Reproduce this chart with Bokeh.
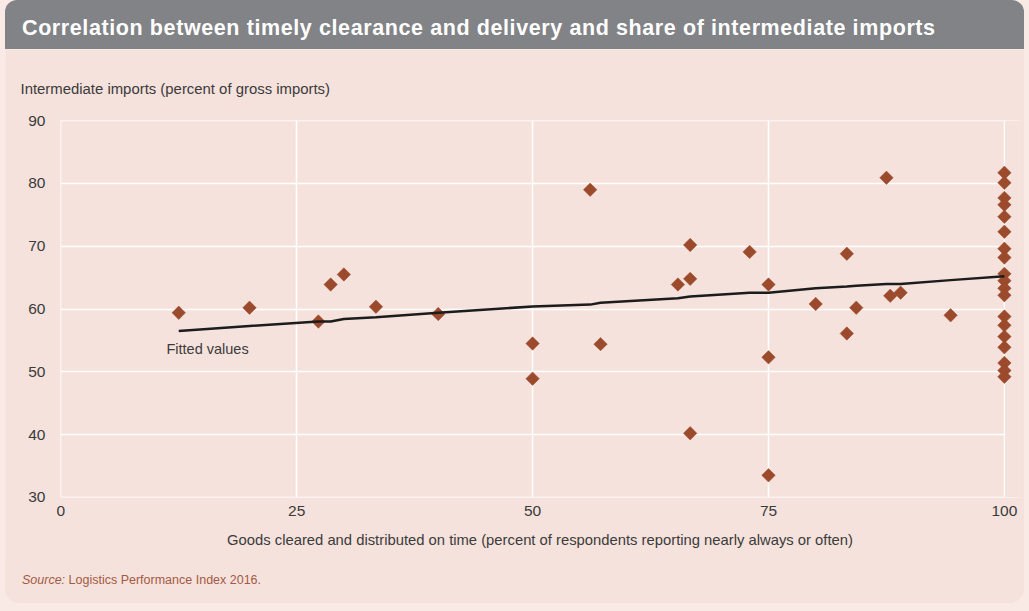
import numpy as np
from bokeh.plotting import figure
from bokeh.models import Range1d, Label, Div, FixedTicker, BoxAnnotation, Title
from bokeh.layouts import column
from bokeh.embed import file_html
from bokeh.resources import INLINE

# ---- data ----
x_vals = [12.5, 20.0, 27.3, 28.6, 30.0, 33.4, 40.0, 50.0, 50.0, 56.1, 57.2, 65.4, 66.7, 66.7,
          66.7, 73.0, 75.0, 75.0, 75.0, 80.0, 83.3, 83.3, 84.3, 87.5, 87.9, 89.0, 94.3,
          100, 100, 100, 100, 100, 100, 100, 100, 100, 100, 100, 100, 100, 100, 100, 100,
          100, 100, 100]
y_vals = [59.4, 60.2, 58.0, 63.9, 65.5, 60.35, 59.2, 54.5, 48.9, 79.0, 54.4, 63.9, 70.2, 64.8,
          40.2, 69.1, 63.9, 52.3, 33.5, 60.8, 68.8, 56.1, 60.2, 80.9, 62.1, 62.6, 59.0,
          81.7, 80.1, 77.7, 76.6, 74.7, 72.3, 69.6, 68.2, 65.6, 64.5, 63.3, 62.2,
          58.8, 57.4, 55.6, 53.9, 51.4, 50.2, 49.2]

fit_x = [12.5, 20.0, 27.3, 28.6, 30.0, 33.4, 40.0, 50.0, 56.1, 57.2, 65.4, 66.7, 73.0, 75.0,
         80.0, 83.3, 84.3, 87.5, 89.0, 94.3, 100]
fit_y = [56.5, 57.3, 58.0, 58.0, 58.4, 58.7, 59.4, 60.4, 60.7, 61.0, 61.7, 62.0, 62.6, 62.6,
         63.3, 63.6, 63.7, 64.0, 64.0, 64.6, 65.2]

x_ticks = [0, 25, 50, 75, 100]
y_ticks = [30, 40, 50, 60, 70, 80, 90]

title_text = "Correlation between timely clearance and delivery and share of intermediate imports"
y_title = "Intermediate imports (percent of gross imports)"
x_title = "Goods cleared and distributed on time (percent of respondents reporting nearly always or often)"
fit_label = "Fitted values"
source_head = "Source:"
source_rest = "Logistics Performance Index 2016."

# ---- styles ----
PINK = "#f5e2dc"
PAGE = "#f9eae6"
GRAY = "#828387"
DOT = "#9b4a2c"
TXT = "#3b3b3b"
SRC = "#a35a44"
FONT = "Liberation Sans, Arial, sans-serif"

W = 1019

header = Div(
    text=(f'<div style="box-sizing:border-box;width:{W}px;height:49px;padding-top:8px;line-height:40px;'
          f'padding-left:17px;background:{GRAY};color:white;font-family:Liberation Sans, Arial, sans-serif;'
          f'font-weight:bold;font-size:21.5px;letter-spacing:0.6px;border-radius:12px 12px 0 0;'
          f'white-space:nowrap;overflow:hidden;">{title_text}</div>'),
    width=W, height=49, margin=(0, 0, 0, 5),
)

# ranges padded by a hair so the grid lines at 0, 30 and 90 (frame border) are drawn
p = figure(width=W, height=511, output_backend="svg", toolbar_location=None,
           x_range=Range1d(-0.03, 101.6), y_range=Range1d(29.97, 90.03),
           min_border_left=55, min_border_right=5, min_border_top=71, min_border_bottom=63,
           background_fill_color=PINK, border_fill_color=PINK,
           outline_line_color=None, margin=(0, 0, 0, 5))

# y-axis caption as a left-aligned title above the frame (blank second line lifts it)
p.add_layout(Title(text=y_title + "\n ", align="left", offset=-40, text_font=FONT,
                   text_font_size="14.9px", text_font_style="normal", text_color=TXT,
                   text_line_height=1.17), "above")

p.xaxis.ticker = FixedTicker(ticks=x_ticks)
p.yaxis.ticker = FixedTicker(ticks=y_ticks)
for ax in (p.xaxis, p.yaxis):
    ax.axis_line_color = None
    ax.major_tick_line_color = None
    ax.minor_tick_line_color = None
    ax.major_tick_in = 0
    ax.major_tick_out = 0
    ax.minor_tick_out = 0
    ax.major_label_text_font = FONT
    ax.major_label_text_font_size = "15.5px"
    ax.major_label_text_color = TXT
p.yaxis.major_label_standoff = 15
p.xaxis.major_label_standoff = 8
p.xaxis.axis_label = x_title
p.xaxis.axis_label_text_font = FONT
p.xaxis.axis_label_text_font_size = "14.8px"
p.xaxis.axis_label_text_font_style = "normal"
p.xaxis.axis_label_text_color = TXT
p.xaxis.axis_label_standoff = 13

p.xgrid.grid_line_color = "white"
p.ygrid.grid_line_color = "white"
p.xgrid.grid_line_width = 1.5
p.ygrid.grid_line_width = 1.5

# cover the horizontal grid stubs right of x = 100 (frame widened so markers are not clipped)
p.add_layout(BoxAnnotation(left=100.09, fill_color=PINK, fill_alpha=1.0, line_color=None,
                           level="underlay"))

p.scatter(x_vals, y_vals, marker="square", angle=np.pi / 4, size=9.5,
          fill_color=DOT, line_color=DOT, line_width=0.5)
p.line(fit_x, fit_y, line_color="#1c1c1c", line_width=2.5)

p.add_layout(Label(x=11.2, y=53.6, text=fit_label, text_font=FONT, text_font_size="14.5px",
                   text_color=TXT, text_baseline="middle"))

footer = Div(
    text=(f'<div style="box-sizing:border-box;width:{W}px;height:43px;padding-top:11px;line-height:18px;'
          f'padding-left:17px;background:{PINK};color:{SRC};font-family:Liberation Sans, Arial, sans-serif;'
          f'font-size:12.5px;border-radius:0 0 14px 14px;white-space:nowrap;">'
          f'<i>{source_head}</i> {source_rest}</div>'),
    width=W, height=43, margin=(0, 0, 0, 5),
)

layout = column(header, p, footer, spacing=0, width=1029, height=611,
                styles={"background-color": PAGE})
open("out.html", "w").write(file_html(layout, INLINE))
